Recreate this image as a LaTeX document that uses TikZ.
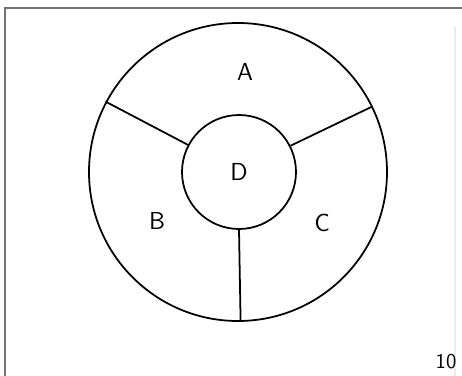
\documentclass[tikz,border=0pt]{standalone}
\usepackage{tikz}

\begin{document}
\begin{tikzpicture}[font=\sffamily\fontsize{14}{16}\selectfont,
  ring/.style={circle, draw=black, line width=1pt, inner sep=0pt},
  spoke/.style={line width=1pt}]
\useasboundingbox (-4.76,-4.06) rectangle (4.48,3.44);

% frame
\draw[black!55, line width=1.6pt] (-4.66,-4.1) -- (-4.66,3.28) -- (4.5,3.28);
\draw[black!8, line width=0.8pt] (4.34,2.9) -- (4.34,-4.1);

\node[ring, minimum size=5.96cm] (outer) at (0,0) {};
\node[ring, minimum size=2.28cm] (inner) at (0.02,0) {D};

\node (A) at (0.14,2.0) {A};
\node (B) at (-1.62,-0.98) {B};
\node (C) at (1.68,-1.02) {C};

\node[font=\sffamily\fontsize{12}{14}\selectfont] (num) at (4.16,-3.8) {10};

\draw[spoke] (inner.152) to (outer.152);
\draw[spoke] (inner.27) to (outer.26);
\draw[spoke] (inner.270) to (outer.271);

\end{tikzpicture}
\end{document}
